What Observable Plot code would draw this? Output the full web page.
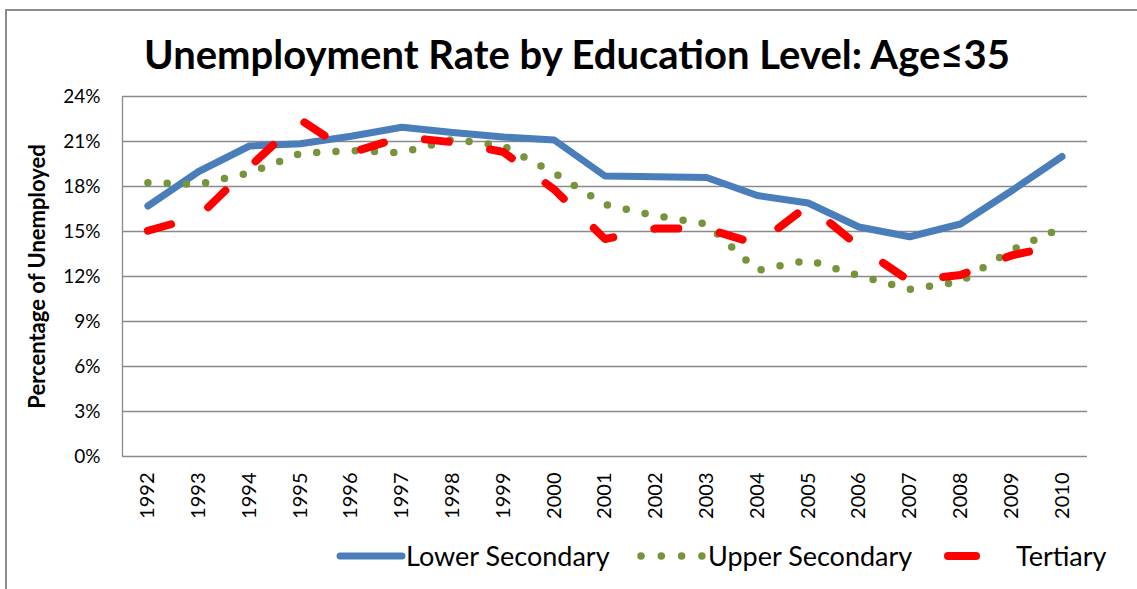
<!DOCTYPE html>
<html>
<head>
<meta charset="utf-8">
<script src="https://cdn.jsdelivr.net/npm/d3@7"></script>
<script src="https://cdn.jsdelivr.net/npm/@observablehq/plot@0.6"></script>
<style>
  body { margin: 0; background: #fff; }
  #wrap { position: relative; width: 1137px; height: 589px; overflow: hidden; background: #fff; font-family: Lato, "Open Sans", sans-serif; color: #000; }
  #frame { position: absolute; left: 5px; top: 9px; width: 1200px; height: 700px; border-left: 2px solid #8c8c8c; border-top: 2px solid #8c8c8c; }
  #title { position: absolute; left: 0; width: 1154px; top: 34px; text-align: center; font-weight: bold; font-size: 40px; line-height: 40px; white-space: nowrap; }
  #chart { position: absolute; left: 0; top: 0; }
  #legend { position: absolute; left: 0; top: 530px; }
  .lg { position: absolute; font-size: 27px; line-height: 27px; white-space: nowrap; top: 12px; }
</style>
</head>
<body>
<div id="wrap">
  <div id="frame"></div>
  <div id="chart"></div>
  <div id="title">Unemployment Rate by Education Level: Age≤35</div>
  <div id="legend"></div>
</div>
<script>
const years = [1992, 1993, 1994, 1995, 1996, 1997, 1998, 1999, 2000, 2001, 2002, 2003, 2004, 2005, 2006, 2007, 2008, 2009, 2010];
const lowerSecondary = [16.7, 19.0, 20.7, 20.85, 21.35, 21.95, 21.6, 21.3, 21.1, 18.7, 18.65, 18.6, 17.4, 16.9, 15.3, 14.65, 15.5, 17.7, 20.0];
const upperSecondary = [18.25, 18.15, 18.9, 20.2, 20.4, 20.25, 21.15, 20.7, 18.9, 16.8, 16.05, 15.5, 12.4, 13.1, 12.05, 11.15, 11.65, 13.75, 15.25];
const tertiary = [15.05, 16.0, 19.3, 22.45, 20.25, 21.3, 20.95, 20.3, 17.8, 14.5, 15.2, 15.2, 14.15, 16.75, 14.0, 11.7, 12.1, 13.4, 14.15];
const yTicks = [0, 3, 6, 9, 12, 15, 18, 21, 24];
const seriesNames = ["Lower Secondary", "Upper Secondary", "Tertiary"];
const seriesColors = ["#4A7EBB", "#77933C", "#FF0000"];
const titleText = "Unemployment Rate by Education Level: Age≤35";
const yTitle = "Percentage of Unemployed";

const toRows = (vals) => years.map((yr, i) => ({year: yr, value: vals[i]}));

const plot = Plot.plot({
  width: 1137,
  height: 530,
  marginTop: 96,
  marginBottom: 74,
  marginLeft: 122,
  marginRight: 50,
  style: {fontFamily: "Lato, 'Open Sans', sans-serif", color: "#000", background: "transparent", overflow: "visible"},
  x: {type: "linear", domain: [1991.5, 2010.5]},
  y: {domain: [0, 24]},
  marks: [
    Plot.gridY(yTicks, {stroke: "#8a8a8a", strokeOpacity: 1, strokeWidth: 1.3}),
    Plot.ruleX([1991.5], {stroke: "#8a8a8a", strokeWidth: 1.3}),
    Plot.line(toRows(lowerSecondary), {x: "year", y: "value", stroke: seriesColors[0], strokeWidth: 7, strokeLinecap: "round", strokeLinejoin: "round"}),
    Plot.line(toRows(upperSecondary), {x: "year", y: "value", stroke: seriesColors[1], strokeWidth: 7.5, strokeLinecap: "round", strokeLinejoin: "round", strokeDasharray: "0,19.3"}),
    Plot.line(toRows(tertiary), {x: "year", y: "value", stroke: seriesColors[2], strokeWidth: 8, strokeLinecap: "round", strokeLinejoin: "round", strokeDasharray: "24,42"}),
    Plot.axisY({ticks: yTicks, tickFormat: d => d + "%", tickSize: 0, tickPadding: 22, fontSize: 19, label: null}),
    Plot.axisX({ticks: years, tickFormat: d => String(d), tickRotate: -90, tickSize: 0, tickPadding: 16, fontSize: 20, label: null}),
    Plot.text([yTitle], {frameAnchor: "left", text: d => d, rotate: -90, dx: -85, fontSize: 22, fontWeight: "bold", textAnchor: "middle"})
  ]
});
document.getElementById("chart").appendChild(plot);

// Legend
const legend = document.getElementById("legend");
const ns = "http://www.w3.org/2000/svg";
const lsvg = document.createElementNS(ns, "svg");
lsvg.setAttribute("width", 1137);
lsvg.setAttribute("height", 59);
lsvg.style.position = "absolute";
lsvg.style.left = "0px";
lsvg.style.top = "0px";
const swatches = [
  {x1: 340, x2: 402, color: seriesColors[0], w: 7, dash: null},
  {x1: 641, x2: 702, color: seriesColors[1], w: 7.5, dash: "0,20.3"},
  {x1: 948, x2: 976, color: seriesColors[2], w: 8, dash: null}
];
swatches.forEach(s => {
  const l = document.createElementNS(ns, "line");
  l.setAttribute("x1", s.x1); l.setAttribute("x2", s.x2);
  l.setAttribute("y1", 26); l.setAttribute("y2", 26);
  l.setAttribute("stroke", s.color);
  l.setAttribute("stroke-width", s.w);
  l.setAttribute("stroke-linecap", "round");
  if (s.dash) l.setAttribute("stroke-dasharray", s.dash);
  lsvg.appendChild(l);
});
legend.appendChild(lsvg);
const textX = [406, 708, 1016];
seriesNames.forEach((n, i) => {
  const d = document.createElement("div");
  d.className = "lg";
  d.style.left = textX[i] + "px";
  d.textContent = n;
  legend.appendChild(d);
});
</script>
</body>
</html>
